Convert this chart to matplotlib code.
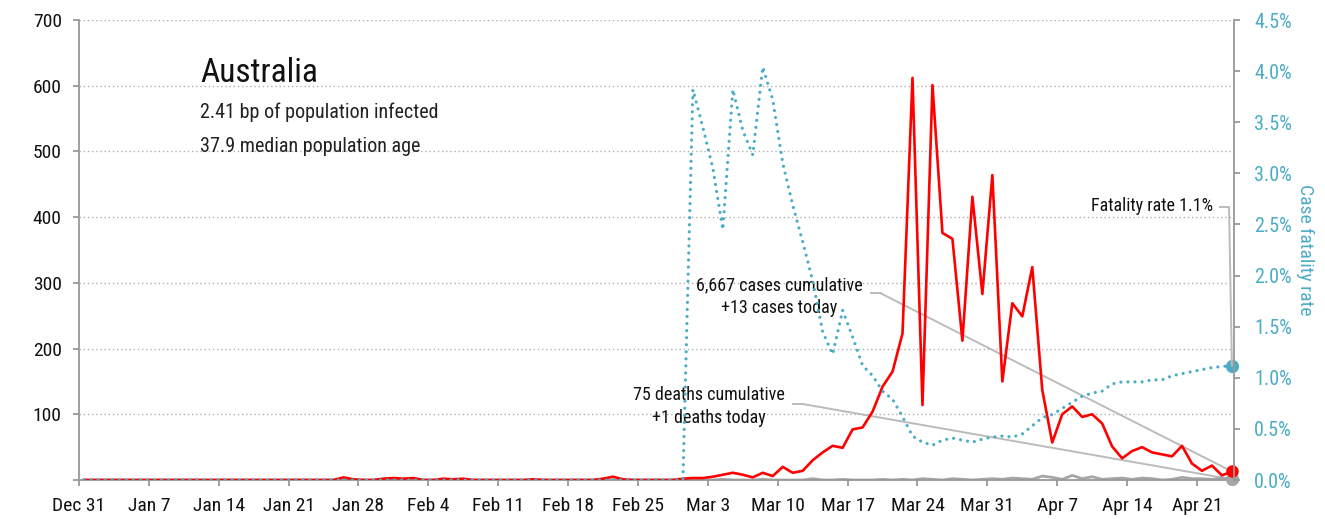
import pandas as pd
import matplotlib
matplotlib.use("Agg")
import matplotlib.pyplot as plt
from matplotlib import font_manager

# daily values, Dec 31 2019 .. Apr 24 2020 (116 days)
new_cases = (
    [0] * 26
    + [4, 1, 0, 0, 2, 3, 2, 3, 0, 0, 2, 1, 2, 0, 0, 0, 0, 0, 0, 1, 0, 0, 0, 0, 0, 0,
       2, 5, 1, 0, 0, 0, 0, 0]
    + [2, 3, 3, 5, 8, 11, 8, 4, 11, 6, 20, 11, 14, 30, 42, 52, 49, 77, 80, 104, 142,
       165, 223]
    + [612, 114, 601, 376, 367, 212, 431, 283, 464, 150, 269, 249, 324, 137, 57, 100,
       112, 96, 100, 86, 51, 33, 44, 50, 42, 39, 36, 52, 25, 14, 22, 7, 13]
)
new_deaths = (
    [0] * 61
    + [1, 0, 0, 1, 0, 0, 0, 1, 0, 0, 0, 0, 2, 0, 0, 1, 0, 0, 0, 1, 0, 1, 0, 2, 1, 0,
       2, 1, 0, 1, 2, 1, 3, 2, 1, 6, 4, 1, 7, 2, 5, 1, 2, 3, 1, 3, 2, 0, 1, 4, 2, 2,
       1, 3, 1]
)
fatality_rate = (
    [0.0] * 61
    + [3.82, 3.45, 3.05, 2.45, 3.82, 3.42, 3.18, 4.04, 3.72, 3.10, 2.69, 2.33, 1.95,
       1.45, 1.23, 1.66, 1.40, 1.12, 1.02, 0.87, 0.79, 0.62, 0.43, 0.37, 0.34, 0.39,
       0.41, 0.39, 0.37, 0.40, 0.42, 0.43, 0.42, 0.45, 0.53, 0.61, 0.64, 0.70, 0.76,
       0.82, 0.85, 0.87, 0.94, 0.96, 0.96, 0.96, 0.98, 0.98, 1.02, 1.04, 1.06, 1.08,
       1.10, 1.11, 1.12]
)
dates = pd.date_range("2019-12-31 12:00", periods=len(new_cases), freq="D")
tick_dates = pd.date_range("2019-12-31", "2020-04-21", freq="7D")
tick_labels = [f"{d:%b} {d.day}" for d in tick_dates]

country = "Australia"
info_lines = ["2.41 bp of population infected", "37.9 median population age"]
cases_note = "6,667 cases cumulative\n+13 cases today"
deaths_note = "75 deaths cumulative\n+1 deaths today"
rate_note = "Fatality rate 1.1%"

# pick a condensed face if there is one
available = {f.name for f in font_manager.fontManager.ttflist}
font = "DejaVu Sans"
for cand in ["Roboto Condensed", "Liberation Sans Narrow", "Noto Sans Condensed",
             "DejaVu Sans Condensed", "Open Sans Condensed"]:
    if cand in available:
        font = cand
        break
plt.rcParams["font.family"] = [font, "DejaVu Sans"]

BLUE = "#4bacc6"
GRAY = "#999999"

fig = plt.figure(figsize=(13.25, 5.19), dpi=100)
ax = fig.add_axes([79 / 1325, 39 / 519, 1155 / 1325, 460 / 519])
ax2 = ax.twinx()

ax.plot(dates, new_deaths, color="#a6a6a6", lw=2, zorder=2)
ax.plot(dates, new_cases, color="#ff0000", lw=1.9, zorder=3)
ax.plot(dates[-1], new_deaths[-1], "o", color="#a6a6a6", ms=8.5, clip_on=False, zorder=4)
ax.plot(dates[-1], new_cases[-1], "o", color="#ff0000", ms=8, clip_on=False, zorder=5)

ax2.plot(dates, fatality_rate, color=BLUE, lw=2.3, linestyle=(0, (0.01, 2.2)),
         dash_capstyle="round")
ax2.plot(dates[-1], fatality_rate[-1], "o", color=BLUE, ms=8.5, clip_on=False)

ax.set_xlim(dates[0] - pd.Timedelta(hours=12), dates[-1] + pd.Timedelta(hours=5))
ax.set_ylim(0, 700)
ax2.set_ylim(0, 4.5)

ax.set_yticks(range(0, 701, 100))
ax.set_yticklabels([""] + [str(v) for v in range(100, 701, 100)])
ax.set_xticks(tick_dates)
ax.set_xticklabels(tick_labels)
ax2.set_yticks([i * 0.5 for i in range(10)])
ax2.set_yticklabels([f"{i * 0.5:.1f}%" for i in range(10)])

ax.grid(axis="y", color="#b0b0b0", linestyle=(0, (1, 2)), lw=1)
ax.set_axisbelow(True)

for a in (ax, ax2):
    a.spines["top"].set_visible(False)
    for s in ("left", "right", "bottom"):
        a.spines[s].set_color(GRAY)
        a.spines[s].set_linewidth(1.3)
ax.spines["right"].set_visible(False)
ax2.spines["left"].set_visible(False)
ax2.spines["bottom"].set_visible(False)

ax.tick_params(axis="both", colors=GRAY, labelcolor="#111111", length=4.5, width=1.3,
               pad=8, labelsize=14)
ax2.tick_params(axis="y", colors=GRAY, labelcolor=BLUE, length=4.5, width=1.3,
                pad=10, labelsize=14.5)
ax2.set_ylabel("Case fatality rate", color=BLUE, fontsize=14, rotation=270,
               labelpad=16)

ax.text(0.1048, 0.865, country, transform=ax.transAxes, fontsize=24,
        va="baseline", color="#111111")
ax.text(0.1048, 0.787, info_lines[0], transform=ax.transAxes, fontsize=14.5,
        va="baseline", color="#222222")
ax.text(0.1048, 0.713, info_lines[1], transform=ax.transAxes, fontsize=14.5,
        va="baseline", color="#222222")

LEAD = "#bbbbbb"


def note(text, tx, ty, stub, point, ha="center"):
    ax.text(tx, ty, text, transform=ax.transAxes, fontsize=13, ha=ha, va="center",
            multialignment="center", linespacing=1.35, color="#111111", zorder=6)
    ax.plot([stub[0], stub[1]], [stub[2], stub[2]], color=LEAD, lw=1.4,
            transform=ax.transAxes, clip_on=False, zorder=1)
    ax.annotate("", xy=point, xytext=(stub[1], stub[2]), textcoords="axes fraction",
                arrowprops=dict(arrowstyle="-", color=LEAD, lw=1.4, shrinkA=0,
                                shrinkB=0), zorder=1)


note(cases_note, 0.606, 0.398, (0.686, 0.694, 0.406), (dates[-1], new_cases[-1]))
note(deaths_note, 0.545, 0.159, (0.618, 0.627, 0.165), (dates[-1], new_deaths[-1]))
# fatality note points at the rate series, which lives on the right axis
ax2.text(0.982, 0.596, rate_note, transform=ax2.transAxes, fontsize=13, ha="right",
         va="center", color="#111111")
ax2.plot([0.988, 0.9957], [0.5935, 0.5935], color=LEAD, lw=1.4,
         transform=ax2.transAxes, clip_on=False)
ax2.annotate("", xy=(dates[-1], fatality_rate[-1]), xytext=(0.9957, 0.5935),
             textcoords="axes fraction",
             arrowprops=dict(arrowstyle="-", color=LEAD, lw=1.4, shrinkA=0, shrinkB=0))

fig.savefig("out.png", dpi=100)
